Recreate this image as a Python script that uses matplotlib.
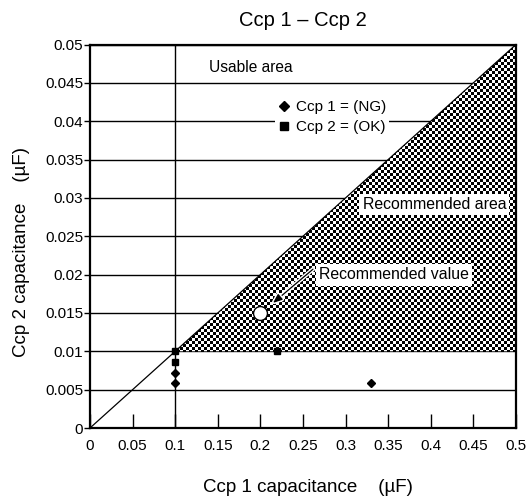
import numpy as np
import matplotlib
matplotlib.use("Agg")
import matplotlib.pyplot as plt
import matplotlib.patheffects as pe
from matplotlib.patches import Polygon
from matplotlib.lines import Line2D

plt.rcParams['font.family'] = ['Liberation Sans', 'DejaVu Sans']

# ---- data ----
ng_x = [0.1, 0.1, 0.33]          # Ccp 1 = (NG)  diamonds
ng_y = [0.0072, 0.0059, 0.0059]
ok_x = [0.1, 0.1, 0.22]          # Ccp 2 = (OK)  squares
ok_y = [0.0100, 0.0086, 0.0100]
rec_x = [0.2]                    # recommended value
rec_y = [0.015]
diag_x = [0.0, 0.5]              # Ccp2 = Ccp1 / 10
diag_y = [0.0, 0.05]
region_x = [0.1, 0.5, 0.5]       # recommended area
region_y = [0.01, 0.05, 0.01]
usable_x = 0.1                   # Ccp1 lower limit line
x_ticks = [0, 0.05, 0.1, 0.15, 0.2, 0.25, 0.3, 0.35, 0.4, 0.45, 0.5]
x_tick_labels = ['0', '0.05', '0.1', '0.15', '0.2', '0.25', '0.3', '0.35', '0.4', '0.45', '0.5']
y_ticks = [0, 0.005, 0.01, 0.015, 0.02, 0.025, 0.03, 0.035, 0.04, 0.045, 0.05]
y_tick_labels = ['0', '0.005', '0.01', '0.015', '0.02', '0.025', '0.03', '0.035', '0.04', '0.045', '0.05']

W, H = 527, 501
fig = plt.figure(figsize=(W / 100, H / 100), dpi=100)
ax_l, ax_r, ax_t, ax_b = 90, 516, 44.5, 428
ax = fig.add_axes([ax_l / W, (H - ax_b) / H, (ax_r - ax_l) / W, (ax_b - ax_t) / H])
ax.set_xlim(0, 0.5)
ax.set_ylim(0, 0.05)

# gridlines
ax.set_yticks(y_ticks)
ax.set_yticklabels(y_tick_labels)
ax.set_xticks(x_ticks)
ax.set_xticklabels(x_tick_labels)
ax.yaxis.grid(True, color='black', linewidth=1.0, zorder=0.5)
ax.set_axisbelow(True)
ax.axvline(usable_x, color='black', linewidth=1.0, zorder=1)

# checkerboard recommended area
cell = 3.0
nx = int(round((ax_r - ax_l) / cell))
ny = int(round((ax_b - ax_t) / cell))
checker = (np.add.outer(np.arange(ny), np.arange(nx)) % 2).astype(float)
poly = Polygon(list(zip(region_x, region_y)), closed=True, facecolor='none',
               edgecolor='none', transform=ax.transData)
ax.add_patch(poly)
im = ax.imshow(checker, extent=[0, 0.5, 0, 0.05], aspect='auto', cmap='gray',
               interpolation='nearest', origin='lower', zorder=2, vmin=0, vmax=1)
im.set_clip_path(poly)

# diagonal
ax.plot(diag_x, diag_y, color='black', linewidth=0.9, zorder=3)

# markers
ax.plot(ng_x, ng_y, linestyle='none', marker='D', markersize=3.7,
        color='black', zorder=4)
ax.plot(ok_x, ok_y, linestyle='none', marker='s', markersize=4.4,
        color='black', zorder=4)
ax.plot(rec_x, rec_y, linestyle='none', marker='o', markersize=10,
        markerfacecolor='white', markeredgecolor='black', markeredgewidth=1.0,
        zorder=5)

# texts
ax.text(0.1884, 0.0470, 'Usable area', fontsize=11.2, ha='center', va='center',
        zorder=6)
ax.text(0.4043, 0.0291, 'Recommended area', fontsize=11.4, ha='center',
        va='center', zorder=6,
        bbox=dict(boxstyle='square,pad=0.2', facecolor='white', edgecolor='none'))
ax.text(0.3568, 0.01995, 'Recommended value', fontsize=11.4, ha='center',
        va='center', zorder=6,
        bbox=dict(boxstyle='square,pad=0.2', facecolor='white', edgecolor='none'))
arr = ax.annotate('', xy=(0.2148, 0.0163), xytext=(0.2617, 0.0207), zorder=6,
                  arrowprops=dict(arrowstyle='-|>,head_length=0.55,head_width=0.22',
                                  color='black', linewidth=0.9, shrinkA=0, shrinkB=0))
arr.arrow_patch.set_path_effects([pe.withStroke(linewidth=3, foreground='white')])

# legend
handles = [Line2D([], [], linestyle='none', marker='D', markersize=5.6, color='black'),
           Line2D([], [], linestyle='none', marker='s', markersize=5.8, color='black')]
leg = ax.legend(handles, ['Ccp 1 = (NG)', 'Ccp 2 = (OK)'], loc='center',
                bbox_to_anchor=(0.568, 0.811), fontsize=11, frameon=True,
                fancybox=False, edgecolor='none', facecolor='white', framealpha=1,
                handlelength=0.8, handletextpad=0.4, labelspacing=0.4,
                borderpad=0.2, borderaxespad=0)
leg.set_zorder(6)

# axes styling
for s in ax.spines.values():
    s.set_linewidth(1.6)
    s.set_zorder(7)
ax.tick_params(axis='x', direction='in', length=10, width=1.0, labelsize=11, pad=8)
ax.tick_params(axis='y', direction='out', length=4, width=1.0, labelsize=11, pad=1)

ax.set_title('Ccp 1 – Ccp 2', fontsize=14.5, pad=13)
ax.set_xlabel('Ccp 1 capacitance    (µF)', fontsize=13.5)
ax.xaxis.label.set_va('center')
ax.xaxis.set_label_coords(0.512, -0.154)
ax.set_ylabel('Ccp 2 capacitance    (µF)', fontsize=13.5)
ax.yaxis.label.set_va('center')
ax.yaxis.set_label_coords(-0.16, 0.46)

fig.savefig('out.png', dpi=100)
